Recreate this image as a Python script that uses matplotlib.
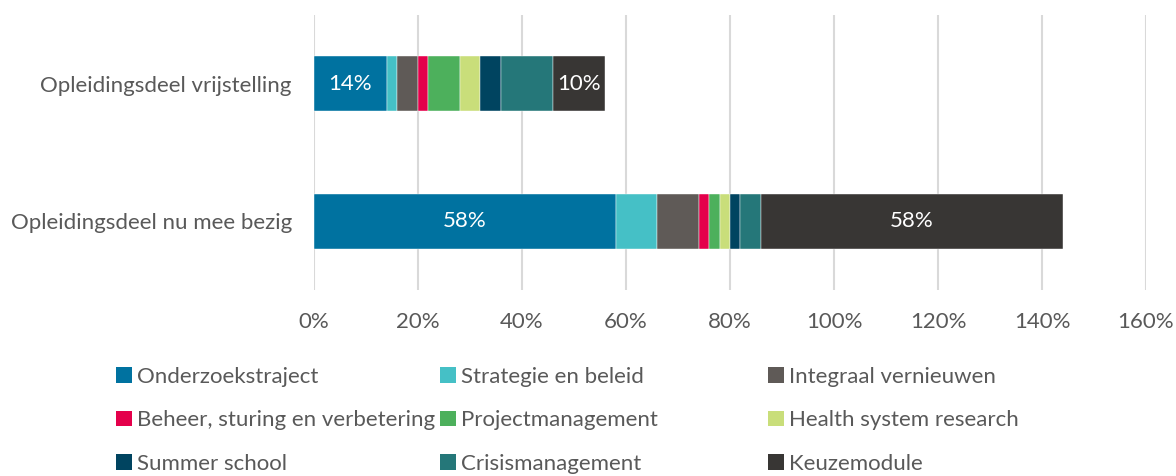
import matplotlib.pyplot as plt
from matplotlib.patches import Patch
from matplotlib.ticker import PercentFormatter

plt.rcParams['font.family'] = ['Lato', 'DejaVu Sans']

rows = ['Opleidingsdeel nu mee bezig', 'Opleidingsdeel vrijstelling']
series = ['Onderzoekstraject', 'Strategie en beleid', 'Integraal vernieuwen',
          'Beheer, sturing en verbetering', 'Projectmanagement', 'Health system research',
          'Summer school', 'Crisismanagement', 'Keuzemodule']
# values per series: [nu mee bezig, vrijstelling]
values = [
    [58, 14],
    [8, 2],
    [8, 4],
    [2, 2],
    [2, 6],
    [2, 4],
    [2, 4],
    [4, 10],
    [58, 10],
]
colors = ['#0072A0', '#45C0C6', '#5F5A57', '#E4004B', '#4DB05C',
          '#C9DE7A', '#004460', '#257779', '#383634']
labelled = ['Onderzoekstraject', 'Keuzemodule']

txt = '#595959'
fs = 16
fig = plt.figure(figsize=(11.76, 4.76), dpi=100)
ax = fig.add_axes([314 / 1176, 1 - 290 / 476, 832 / 1176, 275 / 476])

left = [0, 0]
handles = []
for name, vals, col in zip(series, values, colors):
    bars = ax.barh([0, 1], vals, left=left, height=0.4, color=col,
                   edgecolor='white', linewidth=0.3, zorder=3, label=name)
    if name in labelled:
        ax.bar_label(bars, labels=[f'{v}%' for v in vals], label_type='center',
                     color='white', fontsize=fs)
    left = [a + b for a, b in zip(left, vals)]
    handles.append(Patch(facecolor=col, label=name))

ax.set_xlim(0, 160)
ax.set_ylim(-0.5, 1.5)
ax.set_xticks(range(0, 161, 20))
ax.xaxis.set_major_formatter(PercentFormatter(decimals=0))
ax.set_yticks([0, 1])
ax.set_yticklabels(rows)
ax.grid(axis='x', color='#D9D9D9', linewidth=1.5, zorder=0)
for s in ax.spines.values():
    s.set_visible(False)
ax.tick_params(length=0, labelsize=fs, labelcolor=txt)
ax.tick_params(axis='x', pad=16)
ax.tick_params(axis='y', pad=16)

col_x = [116, 440, 768]
for i, x in enumerate(col_x):
    fig.legend(handles=handles[i::3], loc='upper left',
               bbox_to_anchor=(x / 1176, 1 - 367 / 476), frameon=False,
               fontsize=fs, labelcolor=txt, handlelength=0.7, handleheight=0.7,
               handletextpad=0.25, labelspacing=1.05, borderaxespad=0, borderpad=0)

fig.savefig('out.png', dpi=100)
